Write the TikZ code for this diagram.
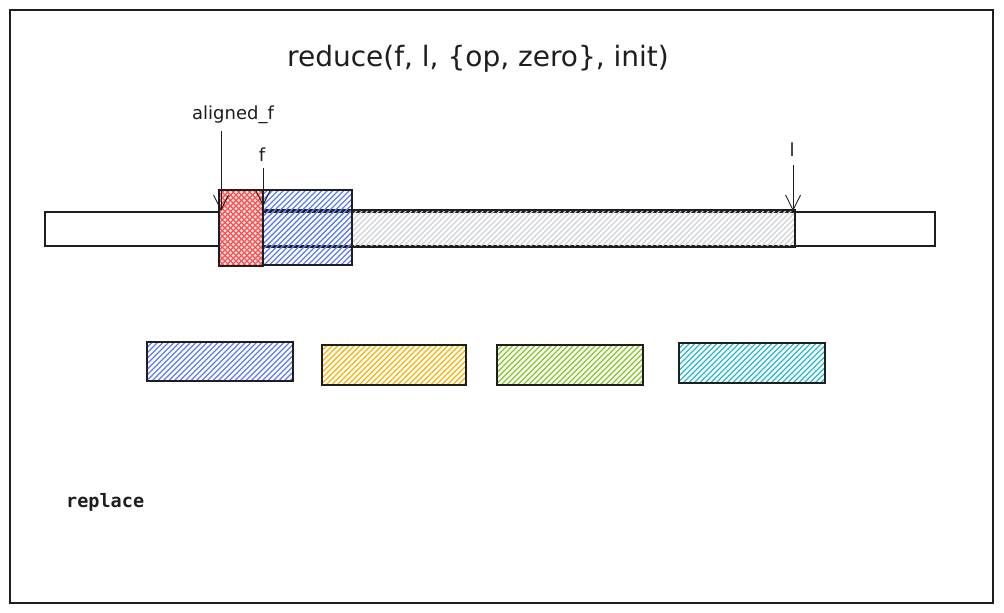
\documentclass[tikz,border=0pt]{standalone}
\usepackage{fontspec}
\setmainfont{DejaVu Sans}
\newfontfamily\codefont{DejaVu Sans Mono}
\usetikzlibrary{arrows.meta}
\definecolor{ink}{HTML}{1E1E1E}
\definecolor{hblue}{HTML}{5C7CFA}
\definecolor{hred}{HTML}{FA5252}
\definecolor{horange}{HTML}{FAB005}
\definecolor{hgreen}{HTML}{82C91E}
\definecolor{hcyan}{HTML}{22B8CF}
\definecolor{hgray}{HTML}{ADB5BD}
% hatching: x1,y1(top),x2,y2(bottom),colour
\newcommand\hatchfw[5]{%
  \begin{scope}
    \clip (#1,#2) rectangle (#3,#4);
    \pgfmathsetmacro\hh{#4-#2}
    \pgfmathsetmacro\xs{#1-\hh}
    \pgfmathsetmacro\xn{\xs+5.5}
    \foreach \xx in {\xs,\xn,...,#3} \draw[#5, line width=1.1pt] (\xx,#4) -- ++(\hh,-\hh);
  \end{scope}}
\newcommand\hatchbw[5]{%
  \begin{scope}
    \clip (#1,#2) rectangle (#3,#4);
    \pgfmathsetmacro\hh{#4-#2}
    \pgfmathsetmacro\xs{#1-\hh}
    \pgfmathsetmacro\xn{\xs+5.5}
    \foreach \xx in {\xs,\xn,...,#3} \draw[#5, line width=1.1pt] (\xx,#2) -- ++(\hh,\hh);
  \end{scope}}
\tikzset{
  sk/.style={draw=ink, line width=1.1pt, inner sep=0pt},
  lbl/.style={inner sep=1pt, text=ink},
  arr/.style={draw=ink, line width=0.9pt, -{Straight Barb[length=15pt,width=15pt,line width=0.9pt]}}
}
\begin{document}
\begin{tikzpicture}[x=1pt,y=-1pt]
\useasboundingbox (0,0) rectangle (1004,613);
\node[sk, minimum width=983pt, minimum height=593pt] (frame) at (501.5,306.5) {};
\node[lbl, font=\fontsize{28}{32}\selectfont] (title) at (478,59) {reduce(f, l, \{op, zero\}, init)};
% long bar
\node[sk, minimum width=890pt, minimum height=34pt] (bar) at (490,229) {};
\hatchfw{220}{210}{795}{247}{hgray!60}
\node[sk, minimum width=575pt, minimum height=37pt] (gray) at (507.5,228.5) {};
\hatchfw{262}{190}{352}{265}{hblue}
\node[sk, minimum width=90pt, minimum height=75pt] (bluebox) at (307,227.5) {};
\fill[hred!15] (219,190) rectangle (263,266);
\hatchfw{219}{190}{263}{266}{hred}
\hatchbw{219}{190}{263}{266}{hred}
\node[sk, minimum width=44pt, minimum height=76pt] (redbox) at (241,228) {};
% labels and arrows
\node[lbl, font=\fontsize{18}{21}\selectfont] (alabel) at (233,115) {aligned\_f};
\node[lbl, font=\fontsize{18}{21}\selectfont] (flabel) at (262,155) {f};
\node[lbl, font=\fontsize{18}{21}\selectfont] (llabel) at (792,150) {l};
\coordinate (astart) at (221,131);
\coordinate (atip) at (221,211);
\coordinate (fstart) at (263,168);
\coordinate (ftip) at (263,206);
\coordinate (lstart) at (793,165);
\coordinate (ltip) at (793,211);
\draw[arr] (astart) -- (atip);
\draw[arr] (fstart) -- (ftip);
\draw[arr] (lstart) -- (ltip);
% bottom boxes
\hatchfw{147}{342}{293}{381}{hblue}
\node[sk, minimum width=146pt, minimum height=39pt] (b1) at (220,361.5) {};
\hatchfw{322}{345}{466}{385}{horange}
\node[sk, minimum width=144pt, minimum height=40pt] (b2) at (394,365) {};
\hatchfw{497}{345}{643}{385}{hgreen}
\node[sk, minimum width=146pt, minimum height=40pt] (b3) at (570,365) {};
\hatchfw{679}{343}{825}{383}{hcyan}
\node[sk, minimum width=146pt, minimum height=40pt] (b4) at (752,363) {};
\node[lbl, font=\codefont\bfseries\fontsize{18.5}{21}\selectfont, anchor=west] (replace) at (65,502) {replace};
\end{tikzpicture}
\end{document}
